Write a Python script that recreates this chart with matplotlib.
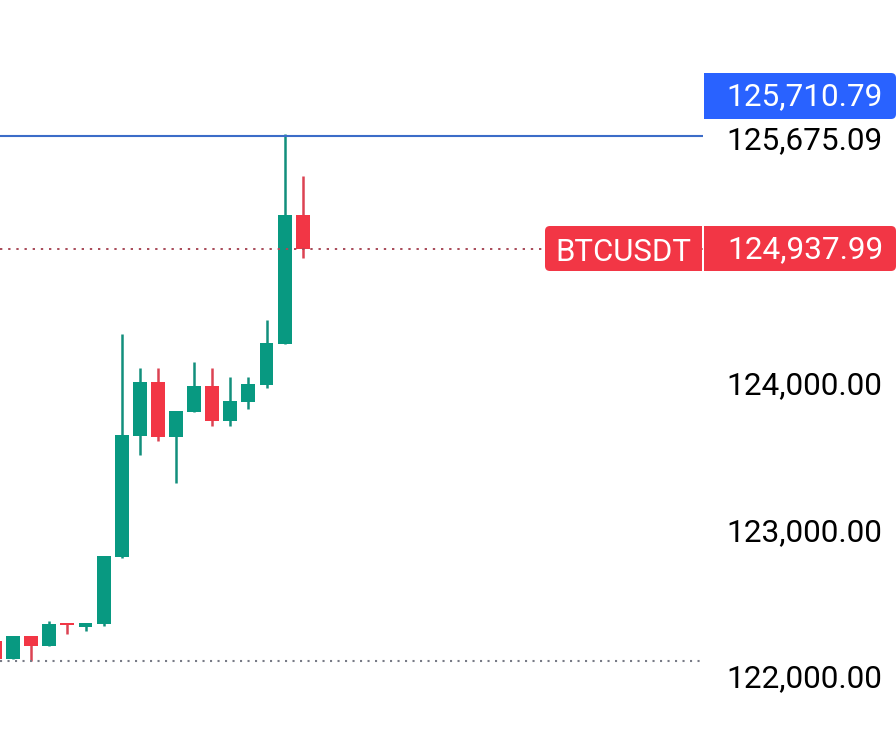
import numpy as np
import matplotlib.pyplot as plt
from matplotlib.patches import FancyBboxPatch, Rectangle
from matplotlib.transforms import ScaledTranslation

plt.rcParams['font.family'] = ['Roboto', 'DejaVu Sans']

opens = [122253, 122130, 122287, 122218, 122375, 122348, 122369, 122826, 123652, 124020, 123645,
         123816, 123993, 123754, 123884, 124000, 124280, 125160]
closes = [122130, 122287, 122218, 122369, 122362, 122375, 122833, 123659, 124020, 123645, 123823,
          123993, 123754, 123891, 124007, 124287, 125160, 124925]
highs = [122253, 122287, 122287, 122389, 122375, 122375, 122833, 124348, 124116, 124116, 123823,
         124157, 124116, 124055, 124055, 124444, 125710.79, 125427]
lows = [122130, 122130, 122116, 122218, 122300, 122321, 122355, 122819, 123522, 123618, 123331,
        123816, 123720, 123720, 123836, 123980, 124280, 124867]

tick_values = [122000, 123000, 124000, 125675.09]
high_price = 125710.79
high_line = 125702
last_price = 124937.99
last_line = 124925
low_price = 122116

GREEN = '#089981'
RED = '#f23645'
BLUE = '#2962ff'
WICK_GREEN = '#128f7c'
WICK_RED = '#dc4352'

W, H = 896, 751
fig = plt.figure(figsize=(W / 100, H / 100), dpi=100, facecolor='white')

# chart area takes everything left of the price scale
ax = fig.add_axes([0, 0, 703 / W, 1])
x = np.arange(len(opens))
ax.set_xlim(0.276, 0.276 + 703 / 18.1)
ax.set_ylim(122000 - 73 * 6.826, 122000 + 678 * 6.826)

for i in x:
    up = closes[i] >= opens[i]
    ax.vlines(i, lows[i], highs[i], color=WICK_GREEN if up else WICK_RED, lw=1.8, zorder=2)
    ax.bar(i, abs(closes[i] - opens[i]), bottom=min(opens[i], closes[i]), width=0.77,
           color=GREEN if up else RED, zorder=3)

ax.axhline(high_line, color='#3c6cc8', lw=1.5, zorder=4)
ax.axhline(last_line, color='#a84a58', lw=1.4, ls=(0, (1.2, 3)), zorder=4)
ax.axhline(low_price, color='#787b86', lw=1.5, ls=(0, (1, 2.6)), zorder=4)

for s in ax.spines.values():
    s.set_visible(False)
ax.xaxis.set_visible(False)
ax.yaxis.tick_right()
ax.set_yticks(tick_values)
ax.set_yticklabels([f'{v:,.2f}' for v in tick_values], fontsize=22.7, color='black')
ax.tick_params(axis='y', length=0, pad=17)
# the scale labels sit a little above their price
for lab in ax.get_yticklabels():
    lab.set_transform(lab.get_transform() + ScaledTranslation(0, 2 / 100, fig.dpi_scale_trans))

# price tags sit on top, in pixel coordinates
over = fig.add_axes([0, 0, 1, 1], facecolor='none')
over.set_xlim(0, W)
over.set_ylim(H, 0)
over.axis('off')


def tag(x0, x1, y0, y1, color, label, text_x, text_y, ha, square, size=22.7):
    over.add_patch(FancyBboxPatch((x0 + 4, y0 + 4), x1 - x0 - 8, y1 - y0 - 8,
                                  boxstyle='round,pad=4,rounding_size=5', fc=color, ec='none', clip_on=False))
    # side facing the neighbouring tag has square corners
    sx = x0 if square == 'left' else x1 - 10
    over.add_patch(Rectangle((sx, y0), 10, y1 - y0, fc=color, ec='none'))
    over.text(text_x, text_y, label, color='white', fontsize=size, ha=ha, va='center_baseline')


tag(704, 896, 73, 119, BLUE, f'{high_price:,.2f}', 883, 93.5, 'right', 'left')
tag(704, 896, 226, 271, RED, f'{last_price:,.2f}', 883, 246.5, 'right', 'left')
tag(545, 702, 226, 271, RED, 'BTCUSDT', 555, 249.5, 'left', 'right', size=22.4)

fig.savefig('out.png', dpi=100)
